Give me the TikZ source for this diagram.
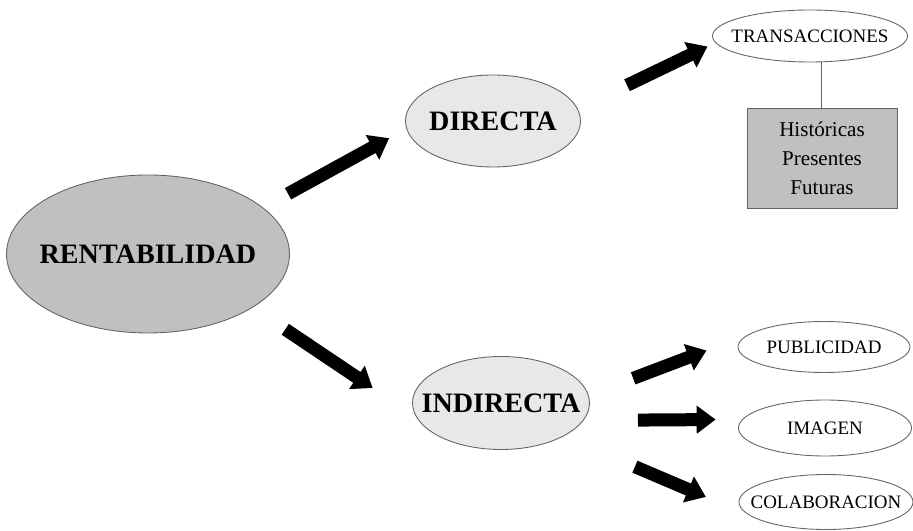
\documentclass[tikz,border=0pt]{standalone}
\usepackage{fontspec}
\setmainfont{Liberation Serif}
\usepackage{tkz-graph}
\usetikzlibrary{arrows.meta}
\usetikzlibrary{shapes}

\definecolor{darkFill}{RGB}{192,192,192}
\definecolor{lightFill}{RGB}{232,232,232}
\definecolor{lineGray}{RGB}{100,100,100}

\begin{document}
\begin{tikzpicture}[scale = 10]
	\tikzstyle{VertexStyle} = []
	\tikzstyle{EdgeStyle} = []
	\tikzstyle{bigStyle}=[shape = ellipse, inner sep = 0pt, draw = lineGray, line width = 0.5pt, font = \fontsize{16}{18}\selectfont\bfseries]
	\tikzstyle{smallStyle}=[shape = ellipse, inner sep = 0pt, draw = lineGray, line width = 0.5pt, fill = white, font = \fontsize{10.8}{13}\selectfont]
	\tikzstyle{boxStyle}=[shape = rectangle, draw = lineGray, line width = 0.5pt, fill = darkFill, minimum width = 3cm, minimum height = 2cm, align = center, font = \fontsize{12}{16.5}\selectfont]
	\tikzstyle{arrowStyle}=[line width = 0.26cm, -{Triangle[length = 0.38cm, width = 0.54cm]}]
	\useasboundingbox (0, 0) rectangle (1.826, 1.062);
	\Vertex[style = {bigStyle, fill = darkFill, minimum width = 5.66cm, minimum height = 3.16cm}, x = 0.296, y = 0.554, L = {\makebox[0pt]{RENTABILIDAD}}]{rent}
	\Vertex[style = {bigStyle, fill = lightFill, minimum width = 3.5cm, minimum height = 1.84cm}, x = 0.986, y = 0.820, L = {\makebox[0pt]{DIRECTA}}]{dir}
	\Vertex[style = {bigStyle, fill = lightFill, minimum width = 3.54cm, minimum height = 1.86cm}, x = 1.002, y = 0.256, L = {\makebox[0pt]{INDIRECTA}}]{indir}
	\Vertex[style = {smallStyle, minimum width = 3.9cm, minimum height = 1.04cm}, x = 1.620, y = 0.990, L = {\makebox[0pt]{TRANSACCIONES}}]{trans}
	\Vertex[style = boxStyle, x = 1.644, y = 0.746, L = {Históricas\\Presentes\\Futuras}]{hist}
	\Vertex[style = {smallStyle, minimum width = 3.44cm, minimum height = 1.02cm}, x = 1.648, y = 0.368, L = {\makebox[0pt]{PUBLICIDAD}}]{pub}
	\Vertex[style = {smallStyle, minimum width = 3.46cm, minimum height = 1.12cm}, x = 1.650, y = 0.206, L = {\makebox[0pt]{IMAGEN}}]{img}
	\Vertex[style = {smallStyle, minimum width = 3.48cm, minimum height = 1.1cm}, x = 1.652, y = 0.058, L = {\makebox[0pt]{COLABORACION}}]{colab}
	\draw[lineGray, line width = 0.5pt] (hist.north) -- (hist.north |- trans.south);
	\draw[arrowStyle, shorten <= 0.58cm, shorten >= 0.40cm] (rent.22.6) -- (dir.185);
	\draw[arrowStyle, shorten <= 1.10cm, shorten >= 0.18cm] (dir.8.5) -- (trans.184.4);
	\draw[arrowStyle, shorten <= 0.79cm, shorten >= 1.07cm] (rent.-27.7) -- (indir.190.5);
	\draw[arrowStyle, shorten <= 0.96cm, shorten >= 1.23cm] (indir.5) -- (pub.163);
	\draw[arrowStyle, shorten <= 1.10cm, shorten >= 0.54cm] (indir.-12) -- (img.174.5);
	\draw[arrowStyle, shorten <= 1.56cm, shorten >= 1.04cm] (indir.-28) -- (colab.192);
\end{tikzpicture}
\end{document}
